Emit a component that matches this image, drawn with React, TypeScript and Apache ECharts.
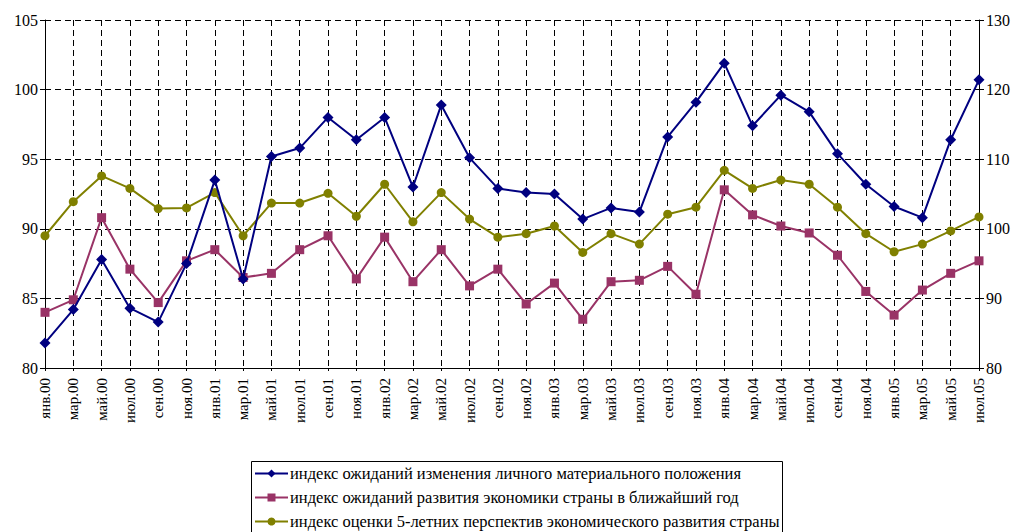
import React, { useEffect, useRef } from "react";
import * as echarts from "echarts";

const categories = [
  "янв.00", "мар.00", "май.00", "июл.00", "сен.00", "ноя.00",
  "янв.01", "мар.01", "май.01", "июл.01", "сен.01", "ноя.01",
  "янв.02", "мар.02", "май.02", "июл.02", "сен.02", "ноя.02",
  "янв.03", "мар.03", "май.03", "июл.03", "сен.03", "ноя.03",
  "янв.04", "мар.04", "май.04", "июл.04", "сен.04", "ноя.04",
  "янв.05", "мар.05", "май.05", "июл.05",
];

const personal = [
  81.8, 84.2, 87.8, 84.3, 83.3, 87.5,
  93.5, 86.4, 95.2, 95.8, 98.0, 96.4,
  98.0, 93.0, 98.9, 95.1, 92.9, 92.6,
  92.5, 90.7, 91.5, 91.2, 96.6, 99.1,
  101.9, 97.4, 99.6, 98.4, 95.4, 93.2,
  91.6, 90.8, 96.4, 100.7,
];

const economyYear = [
  84.0, 84.9, 90.8, 87.1, 84.7, 87.7,
  88.5, 86.5, 86.8, 88.5, 89.5, 86.4,
  89.4, 86.2, 88.5, 85.9, 87.1, 84.6,
  86.1, 83.5, 86.2, 86.3, 87.3, 85.3,
  92.8, 91.0, 90.2, 89.7, 88.1, 85.5,
  83.8, 85.6, 86.8, 87.7,
];

const fiveYear = [
  99.0, 103.9, 107.6, 105.8, 102.9, 103.0,
  105.2, 99.0, 103.7, 103.7, 105.1, 101.8,
  106.4, 101.0, 105.2, 101.4, 98.8, 99.3,
  100.4, 96.6, 99.3, 97.8, 102.1, 103.1,
  108.4, 105.8, 107.0, 106.4, 103.1, 99.3,
  96.7, 97.8, 99.7, 101.7,
];

const seriesNames = [
  "индекс ожиданий изменения личного материального положения",
  "индекс ожиданий развития экономики страны в ближайший год",
  "индекс оценки 5-летних перспектив экономического развития страны",
];

const FONT = "Liberation Serif";

export default function App() {
  const ref = useRef<HTMLDivElement>(null);
  useEffect(() => {
    if (!ref.current) return;
    const chart = echarts.init(ref.current, undefined, { renderer: "svg" });
    const dash = { color: "#000", width: 1, type: [6, 4] as number[] };
    chart.setOption({
      animation: false,
      backgroundColor: "#fff",
      textStyle: { fontFamily: FONT },
      grid: { left: 45, right: 37, top: 20, bottom: 164, containLabel: false },
      xAxis: {
        type: "category",
        data: categories,
        boundaryGap: false,
        axisLine: { lineStyle: { color: "#000", width: 1 } },
        axisTick: { show: true, length: 3, lineStyle: { color: "#000" } },
        axisLabel: {
          rotate: 90,
          interval: 0,
          margin: 10,
          fontFamily: FONT,
          fontSize: 15,
          color: "#000",
        },
        splitLine: { show: true, lineStyle: dash },
      },
      yAxis: [
        {
          type: "value",
          min: 80,
          max: 105,
          interval: 5,
          position: "left",
          axisLine: { show: true, lineStyle: { color: "#000", width: 1 } },
          axisTick: { show: true, length: 5, lineStyle: { color: "#000" } },
          axisLabel: { fontFamily: FONT, fontSize: 16, color: "#000", margin: 7 },
          splitLine: { show: true, lineStyle: dash },
        },
        {
          type: "value",
          min: 80,
          max: 130,
          interval: 10,
          position: "right",
          axisLine: { show: true, lineStyle: { color: "#000", width: 1 } },
          axisTick: { show: true, length: 5, lineStyle: { color: "#000" } },
          axisLabel: { fontFamily: FONT, fontSize: 16, color: "#000", margin: 7 },
          splitLine: { show: false },
        },
      ],
      legend: {
        orient: "vertical",
        left: 254,
        top: 465,
        itemGap: 7,
        itemWidth: 33,
        itemHeight: 10,
        padding: 0,
        textStyle: { fontFamily: FONT, fontSize: 16.5, color: "#000", padding: [0, 0, 0, -3] },
        data: seriesNames,
      },
      graphic: [
        {
          type: "rect",
          shape: { x: 251.5, y: 461.5, width: 531, height: 90 },
          style: { fill: "none", stroke: "#000", lineWidth: 1 },
          silent: true,
        },
      ],
      series: [
        {
          name: seriesNames[0],
          type: "line",
          yAxisIndex: 0,
          data: personal,
          symbol: "diamond",
          symbolSize: 11,
          lineStyle: { color: "#000080", width: 2 },
          itemStyle: { color: "#000080" },
          z: 4,
        },
        {
          name: seriesNames[1],
          type: "line",
          yAxisIndex: 0,
          data: economyYear,
          symbol: "rect",
          symbolSize: 9,
          lineStyle: { color: "#993366", width: 2 },
          itemStyle: { color: "#993366" },
          z: 3,
        },
        {
          name: seriesNames[2],
          type: "line",
          yAxisIndex: 1,
          data: fiveYear,
          symbol: "circle",
          symbolSize: 9,
          lineStyle: { color: "#808000", width: 2 },
          itemStyle: { color: "#808000" },
          z: 2,
        },
      ],
    });
    return () => chart.dispose();
  }, []);
  return <div ref={ref} style={{ width: 1016, height: 532, position: "absolute", left: 0, top: 0 }} />;
}
